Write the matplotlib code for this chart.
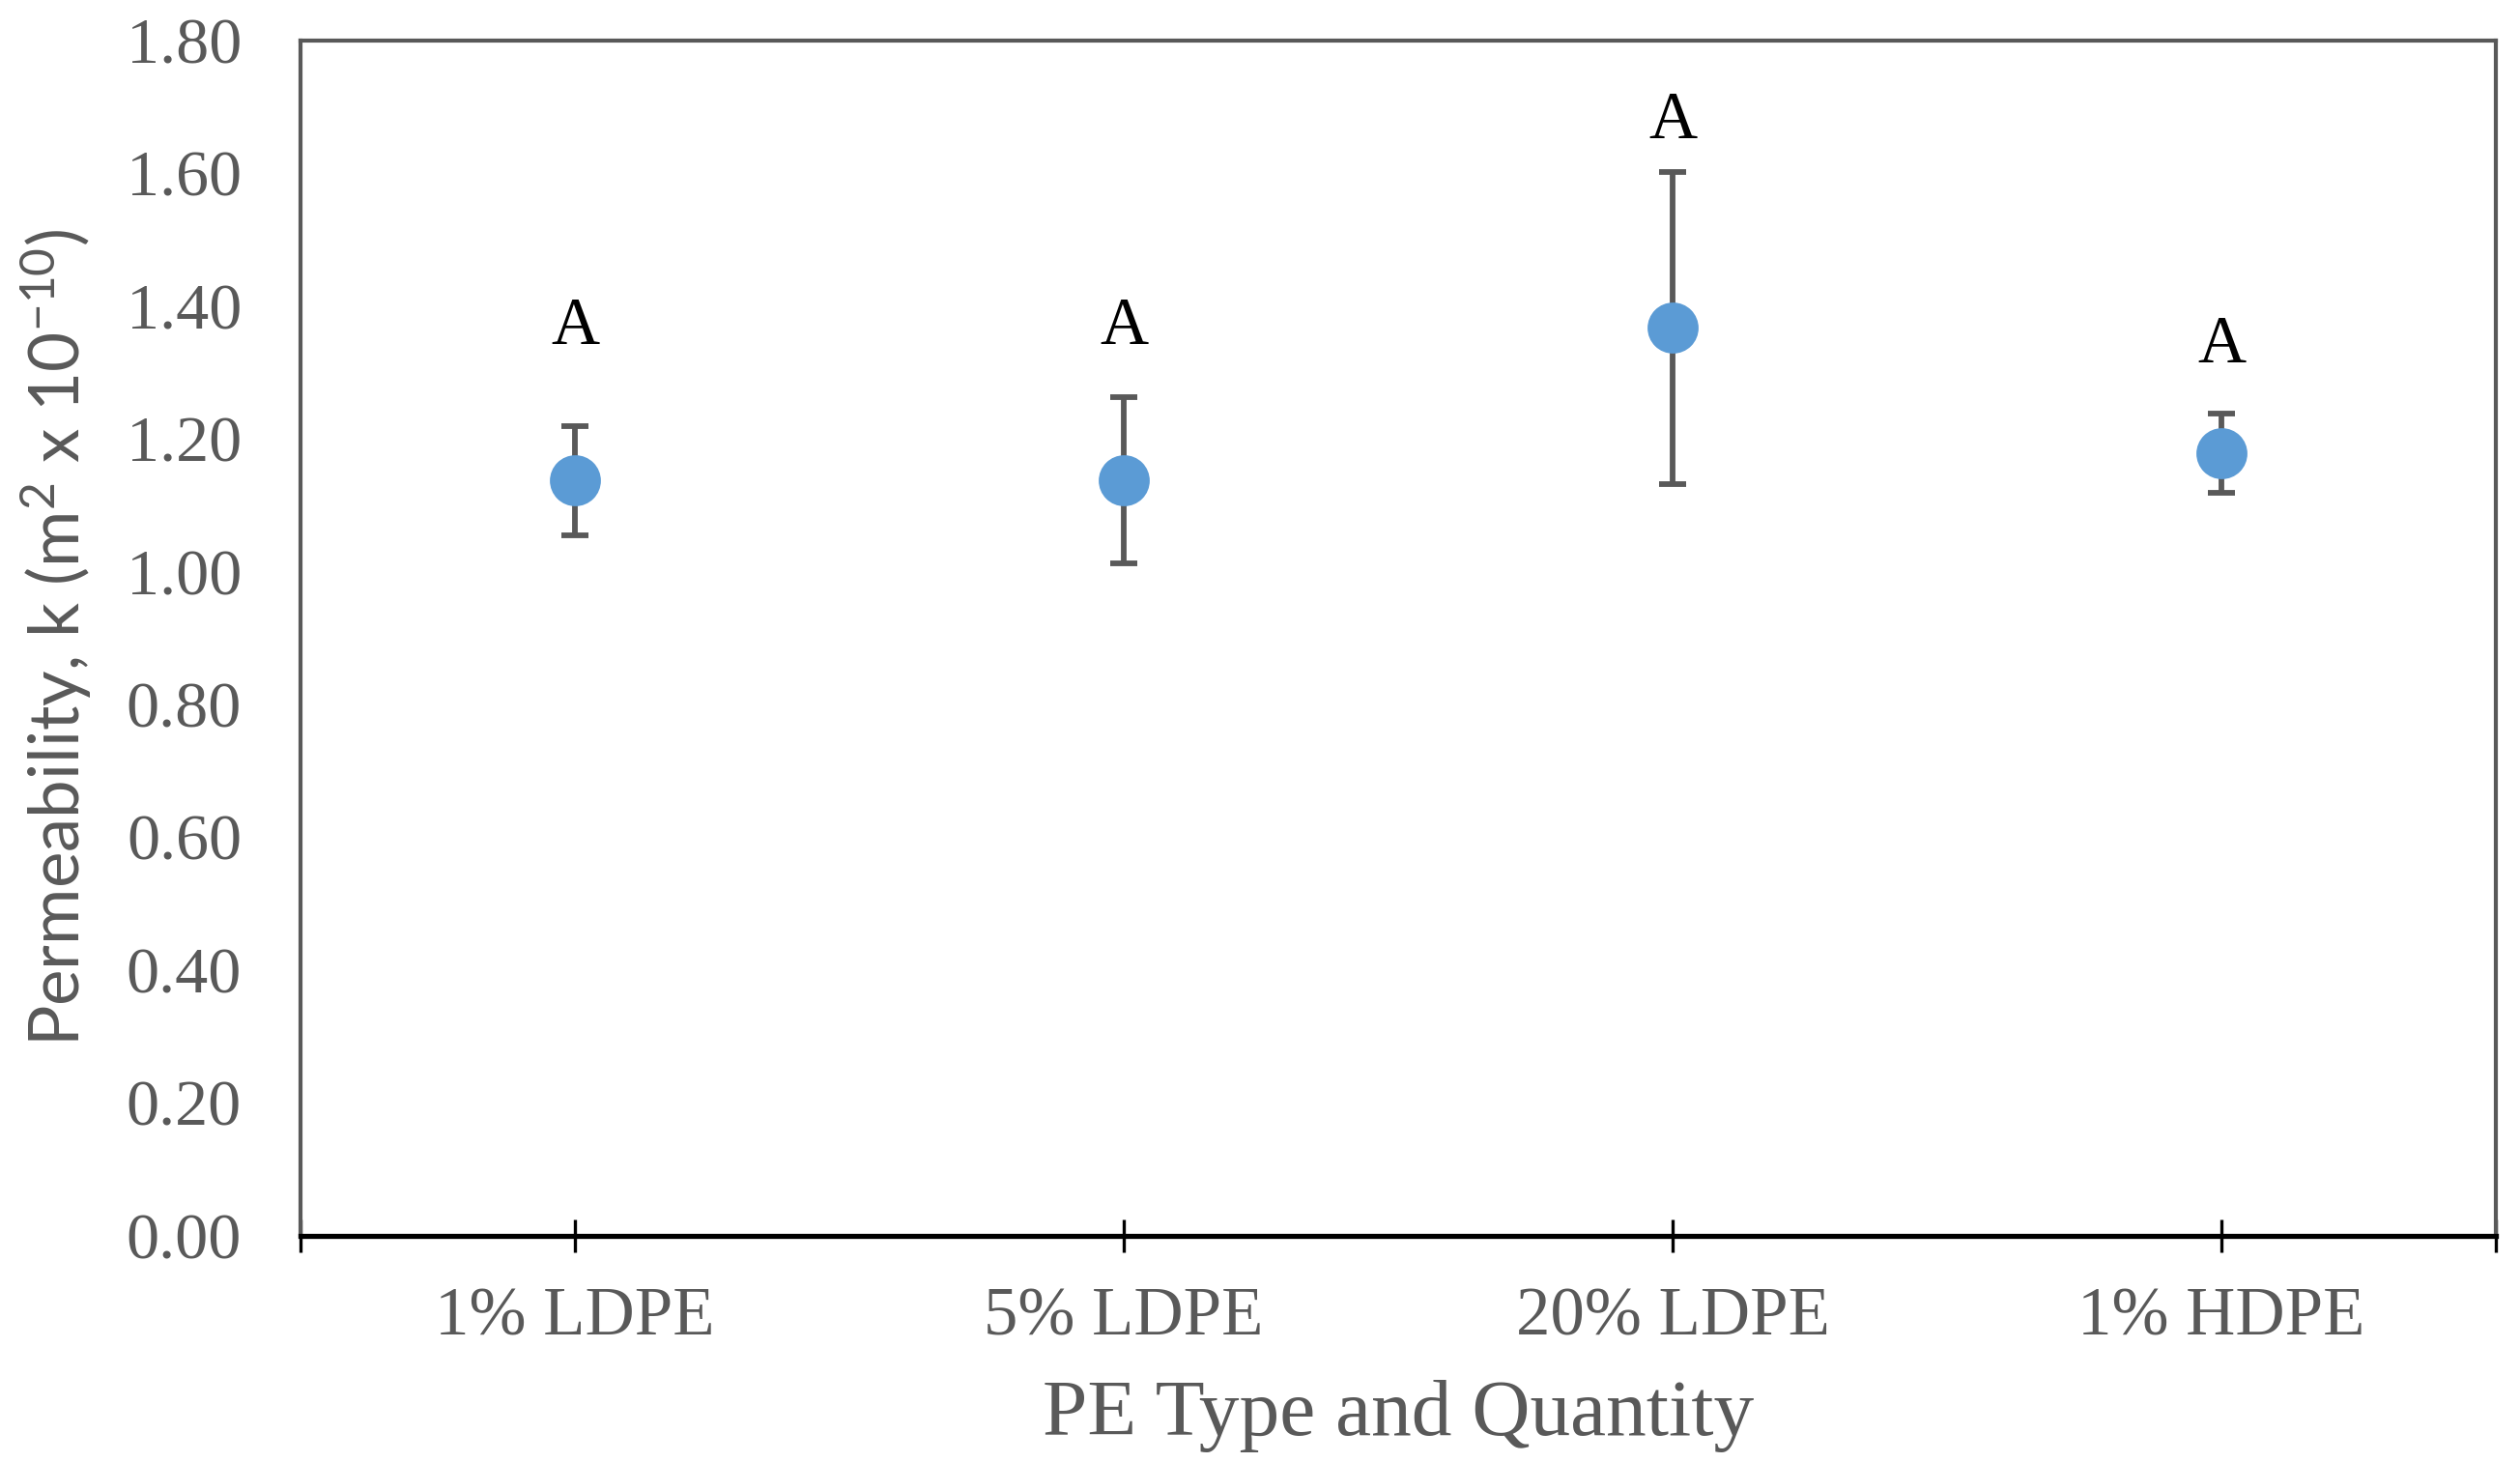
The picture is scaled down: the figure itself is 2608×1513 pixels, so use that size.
import matplotlib
matplotlib.use("Agg")
import matplotlib.pyplot as plt

plt.rcParams['mathtext.fontset'] = 'custom'
plt.rcParams['mathtext.rm'] = 'Lato'
plt.rcParams['mathtext.it'] = 'Lato:italic'
plt.rcParams['mathtext.bf'] = 'Lato:bold'

# data
categories = ['1% LDPE', '5% LDPE', '20% LDPE', '1% HDPE']
means = [1.137, 1.137, 1.367, 1.178]
errors = [0.082, 0.125, 0.235, 0.06]
letters = ['A', 'A', 'A', 'A']
letter_y = [1.367, 1.367, 1.677, 1.34]

grey = '#595959'
blue = '#5B9BD5'

fig = plt.figure(figsize=(13.04, 7.565), dpi=200)
ax = fig.add_axes([0.1193, 0.1547, 0.9904 - 0.1193, 0.9725 - 0.1547])

x = list(range(len(categories)))
ax.errorbar(x, means, yerr=errors, fmt='o', color=blue, markersize=18,
            ecolor=grey, elinewidth=2.1, capsize=5, capthick=2.1, zorder=3)

for xi, txt, yy in zip(x, letters, letter_y):
    ax.text(xi, yy, txt, ha='center', va='center', fontsize=25,
            family='Liberation Serif', color='black')

ax.set_xlim(-0.5, 3.5)
ax.set_ylim(0, 1.8)
ax.set_yticks([i * 0.2 for i in range(10)])
ax.set_yticklabels(['%.2f' % (i * 0.2) for i in range(10)])
ax.set_xticks(x)
ax.set_xticklabels(categories)
ax.set_xticks([-0.5, 3.5], minor=True)

for s in ['left', 'top', 'right']:
    ax.spines[s].set_color(grey)
    ax.spines[s].set_linewidth(1.5)
ax.spines['bottom'].set_color('black')
ax.spines['bottom'].set_linewidth(1.9)

ax.tick_params(axis='y', length=0, pad=22, labelsize=24.5, labelcolor=grey)
ax.tick_params(axis='x', which='both', direction='inout', length=12, width=1.2,
               color='black', pad=13, labelsize=25.5, labelcolor=grey)
for lab in ax.get_xticklabels() + ax.get_yticklabels():
    lab.set_family('Liberation Serif')

ax.set_xlabel('PE Type and Quantity', fontsize=30, family='Liberation Serif',
              color=grey, labelpad=11)
ax.set_ylabel('Permeability, k (m$^2$ x 10$^{-10}$)', fontsize=25.5,
              family='Lato', color=grey, labelpad=12)

fig.savefig('out.png', dpi=200)
